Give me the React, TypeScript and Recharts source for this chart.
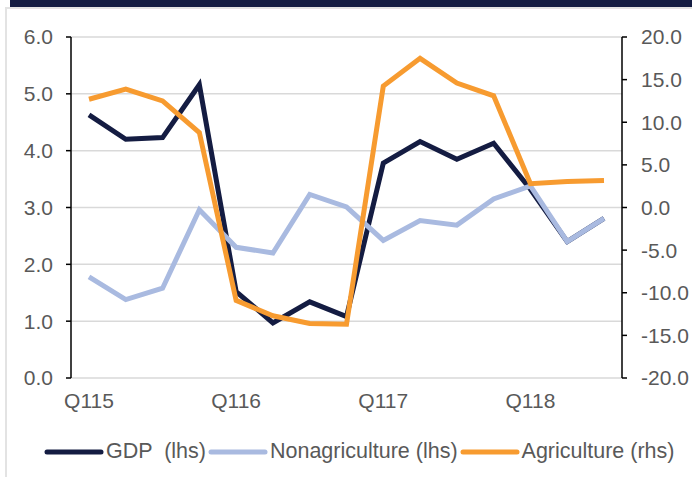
import React from "react";
import {
  LineChart,
  Line,
  XAxis,
  YAxis,
  CartesianGrid,
  Legend,
} from "recharts";

const quarters = [
  "Q115", "Q215", "Q315", "Q415",
  "Q116", "Q216", "Q316", "Q416",
  "Q117", "Q217", "Q317", "Q417",
  "Q118", "Q218", "Q318",
];
const gdp = [4.63, 4.2, 4.23, 5.16, 1.52, 0.97, 1.34, 1.08, 3.78, 4.16, 3.85, 4.13, 3.32, 2.4, 2.81];
const nonagri = [1.78, 1.38, 1.58, 2.96, 2.3, 2.2, 3.23, 3.01, 2.42, 2.77, 2.69, 3.15, 3.38, 2.4, 2.81];
const agri = [12.7, 13.9, 12.5, 8.8, -10.9, -12.7, -13.6, -13.7, 14.25, 17.5, 14.6, 13.1, 2.8, 3.04, 3.16];

const leftTicks = [0, 1, 2, 3, 4, 5, 6];
const rightTicks = [-20, -15, -10, -5, 0, 5, 10, 15, 20];

const NAVY = "#141c42";
const BLUE = "#a9bae0";
const ORANGE = "#f79b30";
const TEXT = "#595959";
const FONT = "'Liberation Sans', Arial, sans-serif";

const seriesLegend = [
  { name: "GDP  (lhs)", color: NAVY },
  { name: "Nonagriculture (lhs)", color: BLUE },
  { name: "Agriculture (rhs)", color: ORANGE },
];

const data = quarters.map((q, i) => ({
  q,
  gdp: gdp[i],
  nonagri: nonagri[i],
  agri: agri[i],
}));

function LegendRow() {
  return (
    <div
      style={{
        display: "flex",
        justifyContent: "flex-start",
        alignItems: "center",
        paddingLeft: 44,
        fontFamily: FONT,
        fontSize: 21.5,
        color: TEXT,
        whiteSpace: "pre",
      }}
    >
      {seriesLegend.map((s) => (
        <span key={s.name} style={{ display: "flex", alignItems: "center", marginRight: 2 }}>
          <svg width={60} height={10} style={{ marginRight: 2 }}>
            <line x1={3} y1={5} x2={57} y2={5} stroke={s.color} strokeWidth={5} strokeLinecap="round" />
          </svg>
          {s.name}
        </span>
      ))}
    </div>
  );
}

export default function App() {
  const tick = { fill: TEXT, fontSize: 21, fontFamily: FONT };
  return (
    <div style={{ position: "absolute", left: 0, top: 0, width: 692, height: 477, background: "#fff" }}>
      <div style={{ position: "absolute", left: 10, top: 0, width: 682, height: 7, background: NAVY }} />
      <div style={{ position: "absolute", left: 5, top: 7, width: 687, height: 2, background: "#e3e3e3" }} />
      <div style={{ position: "absolute", left: 5, top: 7, width: 2, height: 470, background: "#e3e3e3" }} />
      <div style={{ position: "absolute", left: 0, top: 0 }}>
        <LineChart
          width={692}
          height={477}
          data={data}
          margin={{ top: 37, right: 0, bottom: 69, left: 0 }}
        >
          <CartesianGrid vertical={false} stroke="#d9d9d9" strokeWidth={1.5} yAxisId="left" />
          <XAxis
            dataKey="q"
            interval={3}
            height={30}
            axisLine={false}
            tickLine={false}
            tickSize={0}
            tickMargin={15}
            padding={{ left: 18, right: 18 }}
            tick={tick}
          />
          <YAxis
            yAxisId="left"
            orientation="left"
            width={71}
            domain={[0, 6]}
            ticks={leftTicks}
            tickFormatter={(v: number) => v.toFixed(1)}
            axisLine={{ stroke: "#000", strokeWidth: 1.5 }}
            tickLine={{ stroke: "#000", strokeWidth: 1.5 }}
            tickSize={5}
            tickMargin={13}
            tick={tick}
          />
          <YAxis
            yAxisId="right"
            orientation="right"
            width={70}
            domain={[-20, 20]}
            ticks={rightTicks}
            tickFormatter={(v: number) => v.toFixed(1)}
            axisLine={{ stroke: "#000", strokeWidth: 1.5 }}
            tickLine={{ stroke: "#000", strokeWidth: 1.5 }}
            tickSize={5}
            tickMargin={14}
            tick={tick}
          />
          <Legend
            layout="horizontal"
            verticalAlign="middle"
            align="center"
            wrapperStyle={{ top: 439, left: 0, width: 692 }}
            content={() => <LegendRow />}
          />
          <Line
            yAxisId="left"
            dataKey="gdp"
            name="GDP  (lhs)"
            type="linear"
            stroke={NAVY}
            strokeWidth={5}
            dot={false}
            isAnimationActive={false}
          />
          <Line
            yAxisId="left"
            dataKey="nonagri"
            name="Nonagriculture (lhs)"
            type="linear"
            stroke={BLUE}
            strokeWidth={5}
            dot={false}
            isAnimationActive={false}
          />
          <Line
            yAxisId="right"
            dataKey="agri"
            name="Agriculture (rhs)"
            type="linear"
            stroke={ORANGE}
            strokeWidth={5}
            dot={false}
            isAnimationActive={false}
          />
        </LineChart>
      </div>
    </div>
  );
}
